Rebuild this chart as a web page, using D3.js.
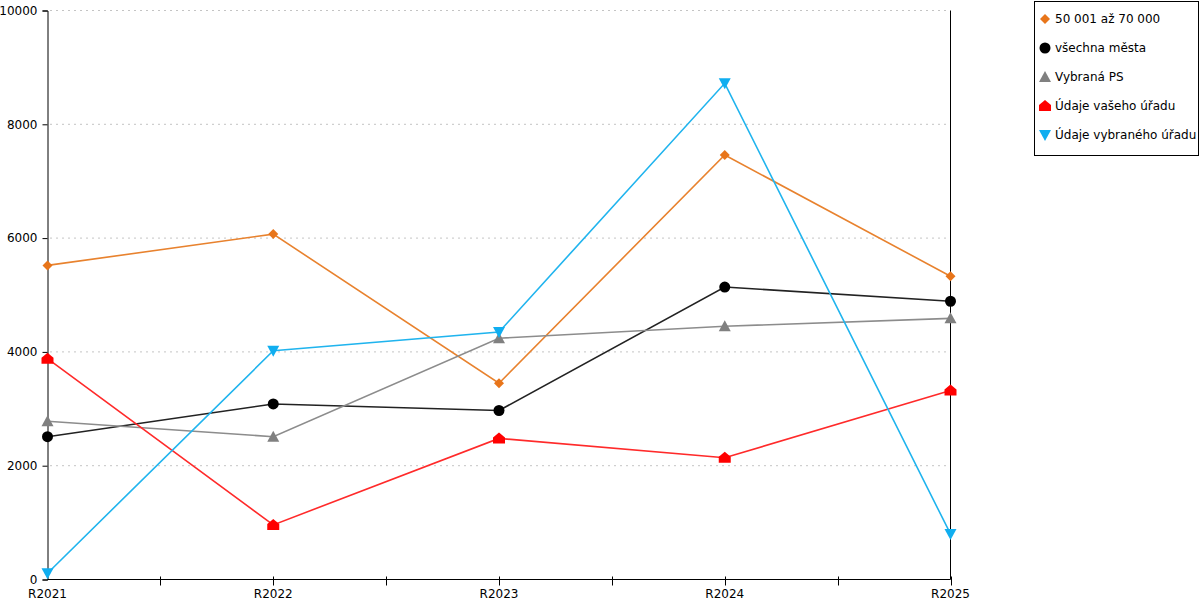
<!DOCTYPE html>
<html><head><meta charset="utf-8">
<script src="https://cdn.jsdelivr.net/npm/d3@7"></script>
<style>body{margin:0;background:#fff}svg{display:block;font-family:"DejaVu Sans",Verdana,sans-serif}</style>
</head><body><svg id="c" width="1200" height="600"></svg>
<script>
const categories = ["R2021","R2022","R2023","R2024","R2025"];
const seriesNames = ["50 001 až 70 000","všechna města","Vybraná PS","Údaje vašeho úřadu","Údaje vybraného úřadu"];
const s50k = [5520, 6070, 3450, 7460, 5330];
const sAll = [2510, 3085, 2970, 5140, 4890];
const sPS = [2780, 2510, 4240, 4450, 4590];
const sYour = [3880, 960, 2480, 2140, 3320];
const sSel = [110, 4020, 4350, 8720, 800];
const yTicks = [0, 2000, 4000, 6000, 8000, 10000];

const series = [
  {name: seriesNames[0], values: s50k, color: "#e8751a", line: "#e8822e", marker: "diamond"},
  {name: seriesNames[1], values: sAll, color: "#000000", line: "#222222", marker: "circle"},
  {name: seriesNames[2], values: sPS, color: "#808080", line: "#8c8c8c", marker: "triangle"},
  {name: seriesNames[3], values: sYour, color: "#ff0000", line: "#ff2a2a", marker: "house"},
  {name: seriesNames[4], values: sSel, color: "#10aef0", line: "#20b4ee", marker: "tridown"}
];

const svg = d3.select("#c");
const x = d3.scalePoint().domain(categories).range([47.5, 950.5]);
const y = d3.scaleLinear().domain([0, 10000]).range([579.5, 10.5]);

// grid
svg.append("g").selectAll("line").data(yTicks.filter(d => d > 0)).join("line")
  .attr("x1", 50).attr("x2", 946).attr("y1", d => y(d)).attr("y2", d => y(d))
  .attr("stroke", "#c4c4c4").attr("stroke-dasharray", "2,4").attr("stroke-width", 1);

// y axis
const ya = svg.append("g").attr("transform", "translate(47.5,0)")
  .call(d3.axisLeft(y).tickValues(yTicks).tickSize(5).tickPadding(5).tickFormat(d3.format("d")));
ya.select(".domain").attr("stroke", "#000");
ya.selectAll("text").attr("font-size", 12).attr("fill", "#000").attr("font-family", '"DejaVu Sans",sans-serif');

// right line
svg.append("line").attr("x1", 950.5).attr("x2", 950.5).attr("y1", y(10000)).attr("y2", y(0)).attr("stroke", "#000");

// x axis
svg.append("line").attr("x1", 47.5).attr("x2", 950.5).attr("y1", y(0)).attr("y2", y(0)).attr("stroke", "#000");
const step = x.step();
const tickPos = [];
categories.forEach((c, i) => { tickPos.push(x(c)); if (i < categories.length - 1) tickPos.push(x(c) + step / 2); });
svg.append("g").selectAll("line").data(tickPos.slice(1)).join("line")
  .attr("x1", d => Math.round(d) + 0.5).attr("x2", d => Math.round(d) + 0.5)
  .attr("y1", y(0) - 3).attr("y2", y(0) + 6).attr("stroke", "#000");
svg.append("g").selectAll("text").data(categories).join("text")
  .attr("x", d => x(d)).attr("y", 598).attr("text-anchor", "middle")
  .attr("font-size", 12).text(d => d);

function markerPath(type, cx, cy) {
  const p = d3.path();
  if (type === "diamond") { p.moveTo(cx, cy - 5); p.lineTo(cx + 5, cy); p.lineTo(cx, cy + 5); p.lineTo(cx - 5, cy); p.closePath(); }
  else if (type === "triangle") { p.moveTo(cx, cy - 6); p.lineTo(cx + 6, cy + 5); p.lineTo(cx - 6, cy + 5); p.closePath(); }
  else if (type === "tridown") { p.moveTo(cx - 6, cy - 5); p.lineTo(cx + 6, cy - 5); p.lineTo(cx, cy + 6); p.closePath(); }
  else if (type === "house") { p.moveTo(cx, cy - 6); p.lineTo(cx + 6, cy - 1); p.lineTo(cx + 6, cy + 5); p.lineTo(cx - 6, cy + 5); p.lineTo(cx - 6, cy - 1); p.closePath(); }
  else { p.arc(cx, cy, 5.5, 0, 2 * Math.PI); }
  return p.toString();
}

const line = d3.line().x((d, i) => x(categories[i])).y(d => y(d));
series.forEach(s => {
  const g = svg.append("g");
  g.append("path").attr("d", line(s.values)).attr("fill", "none").attr("stroke", s.line).attr("stroke-width", 1.6);
  g.selectAll("path.m").data(s.values).join("path").attr("class", "m")
    .attr("d", (d, i) => markerPath(s.marker, x(categories[i]), y(d))).attr("fill", s.color);
});

// legend
const lg = svg.append("g");
lg.append("rect").attr("x", 1034.5).attr("y", 1.5).attr("width", 164).attr("height", 154).attr("fill", "#fff").attr("stroke", "#000");
series.forEach((s, i) => {
  const cy = 19 + i * 29;
  lg.append("path").attr("d", markerPath(s.marker, 1045, cy)).attr("fill", s.color);
  lg.append("text").attr("x", 1055).attr("y", cy + 4).attr("font-size", 12).text(s.name);
});
</script></body></html>
